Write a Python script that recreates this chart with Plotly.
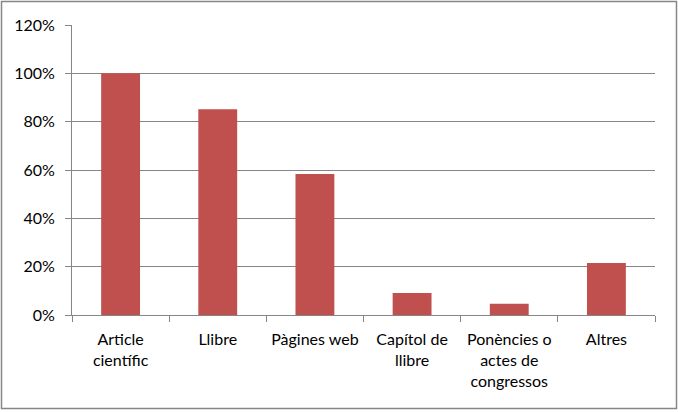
import plotly.graph_objects as go

categories = ["Article<br>científic", "Llibre", "Pàgines web", "Capítol de<br>llibre",
              "Ponències o<br>actes de<br>congressos", "Altres"]
values = [1.00, 0.851, 0.583, 0.091, 0.047, 0.215]
y_ticks = [0, 0.2, 0.4, 0.6, 0.8, 1.0, 1.2]
y_labels = ["0%", "20%", "40%", "60%", "80%", "100%", "120%"]

W, H = 678, 412
L, R, T, B = 72, 23, 25, 97
pw, ph = W - L - R, H - T - B

def px(x):
    return (x - L) / pw

def py(y):
    return (H - B - y) / ph

fig = go.Figure(go.Bar(x=categories, y=values, marker_color="#C0504D",
                       marker_line_width=0))

fig.update_layout(
    width=W, height=H,
    margin=dict(l=L, r=R, t=T, b=B),
    paper_bgcolor="white", plot_bgcolor="white",
    bargap=0.6, showlegend=False,
    font=dict(family="Lato", size=16, color="#000000"),
    shapes=[dict(type="rect", xref="paper", yref="paper",
                 x0=px(1.5), x1=px(676.5), y0=py(1.5), y1=py(408.5),
                 line=dict(color="#868686", width=1.5), layer="above")],
)
fig.update_xaxes(showline=True, linecolor="#868686", linewidth=1,
                 ticks="outside", tickson="boundaries", ticklen=6, tickcolor="#868686",
                 tickfont=dict(size=16), showgrid=False, ticklabelstandoff=10,
                 automargin=False)
fig.update_yaxes(range=[0, 1.2], tickvals=y_ticks, ticktext=y_labels,
                 showline=True, linecolor="#868686", linewidth=1,
                 ticks="outside", ticklen=6, tickcolor="#868686",
                 showgrid=True, gridcolor="#868686", gridwidth=1, zeroline=False,
                 tickfont=dict(size=16), ticklabelstandoff=7, automargin=False)

fig.write_html("out.html")
